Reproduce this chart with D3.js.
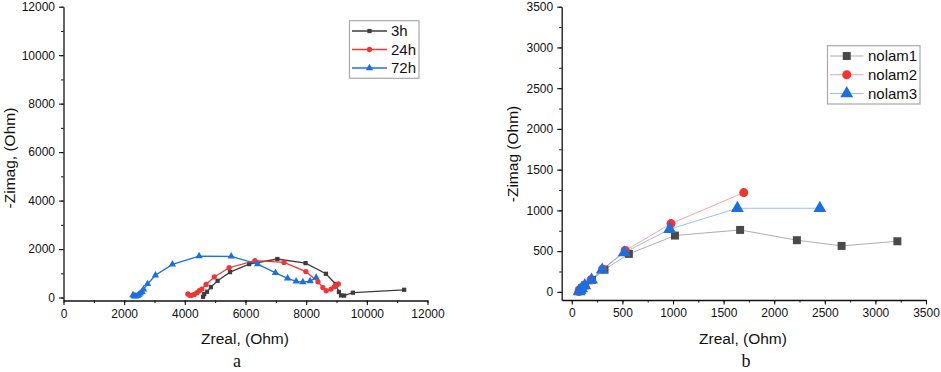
<!DOCTYPE html>
<html>
<head>
<meta charset="utf-8">
<script src="https://cdn.jsdelivr.net/npm/d3@7"></script>
<style>
  html, body { margin: 0; padding: 0; background: #fff; }
  svg { display: block; font-family: "Liberation Sans", Arial, sans-serif; }
</style>
</head>
<body>
<div id="chart"></div>
<script>
// panel a: Nyquist data after 3h / 24h / 72h, [Zreal, -Zimag] in Ohm
const seriesA3h = [
  [4600, 30], [4640, 140], [4730, 240], [4860, 430], [5080, 690], [5490, 1050],
  [6120, 1380], [7050, 1590], [7980, 1420], [8650, 980], [8970, 560], [9080, 230],
  [9150, 90], [9250, 80], [9540, 200], [11230, 320]
];
const seriesA24h = [
  [4100, 150], [4160, 90], [4230, 90], [4310, 130], [4400, 200], [4480, 280],
  [4560, 350], [4700, 540], [4970, 850], [5460, 1230], [6310, 1520], [7270, 1450],
  [7990, 1070], [8390, 650], [8550, 410], [8660, 280], [8820, 350], [8930, 450],
  [9010, 530], [9060, 560]
];
const seriesA72h = [
  [2290, 100], [2330, 60], [2380, 50], [2430, 70], [2480, 110], [2530, 170],
  [2590, 240], [2640, 340], [2770, 560], [3030, 920], [3590, 1370], [4470, 1710],
  [5530, 1700], [6400, 1380], [6990, 1020], [7390, 790], [7670, 670], [7890, 640],
  [8130, 680], [8330, 820]
];

// panel b: nolam samples
const seriesNolam1 = [
  [76, 10], [86, 25], [102, 45], [132, 80], [200, 147], [323, 274], [564, 466],
  [1019, 691], [1663, 760], [2224, 634], [2666, 564], [3217, 621]
];
const seriesNolam2 = [
  [70, 5], [80, 18], [95, 38], [125, 75], [190, 145], [304, 278], [528, 507],
  [980, 838], [1699, 1218]
];
const seriesNolam3 = [
  [72, 5], [82, 20], [98, 40], [128, 78], [195, 147], [300, 270], [518, 482],
  [967, 769], [1636, 1026], [2451, 1026]
];

const labelsA = ["3h", "24h", "72h"];
const labelsB = ["nolam1", "nolam2", "nolam3"];

const ticksA = [0, 2000, 4000, 6000, 8000, 10000, 12000];
const ticksB = [0, 500, 1000, 1500, 2000, 2500, 3000, 3500];

const gray = "#3d3d3d";
const red = "#ef3535";
const blue = "#1b6fdf";

const width = 941;
const height = 372;

const svg = d3.select("#chart")
  .append("svg")
  .attr("width", width)
  .attr("height", height);

function panel(opts) {
  const x = d3.scaleLinear().domain(opts.xDomain).range([opts.left, opts.right]);
  const y = d3.scaleLinear().domain(opts.yDomain).range([opts.bottom, opts.top]);

  const g = svg.append("g");

  // minor ticks first, then major axes on top
  const last = opts.ticks[opts.ticks.length - 1];
  const minorX = d3.range(0, last + 1, opts.minor)
    .filter((v) => v >= opts.xDomain[0] && v <= opts.xDomain[1]);
  const minorY = d3.range(0, last + 1, opts.minor)
    .filter((v) => v >= opts.yDomain[0] && v <= opts.yDomain[1]);

  g.append("g")
    .attr("transform", "translate(0," + opts.bottom + ")")
    .call(d3.axisBottom(x).tickValues(minorX).tickSize(2.5).tickFormat("").tickSizeOuter(0))
    .call((s) => s.select(".domain").remove());
  g.append("g")
    .attr("transform", "translate(" + opts.left + ",0)")
    .call(d3.axisLeft(y).tickValues(minorY).tickSize(2.5).tickFormat("").tickSizeOuter(0))
    .call((s) => s.select(".domain").remove());

  const xAxis = g.append("g")
    .attr("transform", "translate(0," + opts.bottom + ")")
    .call(d3.axisBottom(x).tickValues(opts.ticks).tickSize(4.5).tickSizeOuter(0).tickFormat(d3.format("d")).tickPadding(4));
  const yAxis = g.append("g")
    .attr("transform", "translate(" + opts.left + ",0)")
    .call(d3.axisLeft(y).tickValues(opts.ticks).tickSize(4.5).tickSizeOuter(0).tickFormat(d3.format("d")).tickPadding(4));

  [xAxis, yAxis].forEach((a) => {
    a.selectAll("text").style("font-size", "12px").attr("fill", "#111");
    a.selectAll("line").attr("stroke-width", 1.1);
    a.select(".domain").attr("stroke", "#111").attr("stroke-width", 1.3);
  });
  g.selectAll("line").attr("stroke", "#111");

  // axis titles
  g.append("text")
    .attr("x", opts.xTitleX)
    .attr("y", 344)
    .attr("text-anchor", "middle")
    .style("font-size", "15.5px")
    .attr("fill", "#111")
    .text("Zreal, (Ohm)");

  g.append("text")
    .attr("transform", "translate(" + opts.yTitleX + "," + opts.yTitleY + ") rotate(-90)")
    .attr("text-anchor", "middle")
    .style("font-size", "15.5px")
    .attr("fill", "#111")
    .text(opts.yTitle);

  g.append("text")
    .attr("x", opts.letterX)
    .attr("y", 367)
    .attr("text-anchor", "middle")
    .style("font-family", "'Liberation Serif', 'Times New Roman', serif")
    .style("font-size", "18px")
    .attr("fill", "#111")
    .text(opts.letter);

  const line = d3.line().x((d) => x(d[0])).y((d) => y(d[1]));
  const shapes = [d3.symbolSquare, d3.symbolCircle, d3.symbolTriangle];

  opts.series.forEach((s, i) => {
    g.append("path")
      .datum(s.data)
      .attr("fill", "none")
      .attr("stroke", s.color)
      .attr("stroke-opacity", opts.lineOpacity)
      .attr("stroke-width", opts.lineWidth)
      .attr("d", line);

    g.selectAll(null)
      .data(s.data)
      .enter()
      .append("path")
      .attr("transform", (d) => "translate(" + x(d[0]) + "," + y(d[1]) + ")")
      .attr("d", d3.symbol(shapes[i], opts.markerSize[i]))
      .attr("fill", s.color);
  });

  // legend
  const lg = svg.append("g");
  lg.append("rect")
    .attr("x", opts.legend.x)
    .attr("y", opts.legend.y)
    .attr("width", opts.legend.w)
    .attr("height", opts.legend.h)
    .attr("fill", "#fff")
    .attr("stroke", "#a8a8a8")
    .attr("stroke-width", 1.2);

  opts.series.forEach((s, i) => {
    const ly = opts.legend.rowY[i];
    lg.append("line")
      .attr("x1", opts.legend.lineX1)
      .attr("x2", opts.legend.lineX2)
      .attr("y1", ly)
      .attr("y2", ly)
      .attr("stroke", s.color)
      .attr("stroke-opacity", opts.lineOpacity)
      .attr("stroke-width", opts.lineWidth);
    lg.append("path")
      .attr("transform", "translate(" + (opts.legend.lineX1 + opts.legend.lineX2) / 2 + "," + ly + ")")
      .attr("d", d3.symbol(shapes[i], opts.markerSize[i]))
      .attr("fill", s.color);
    lg.append("text")
      .attr("x", opts.legend.textX)
      .attr("y", ly)
      .attr("dy", "0.36em")
      .style("font-size", "15px")
      .attr("fill", "#111")
      .text(s.label);
  });
}

panel({
  left: 63.5, right: 427.5, top: 6.7, bottom: 300.5,
  xDomain: [0, 12000], yDomain: [-122, 12000],
  ticks: ticksA, minor: 1000,
  xTitleX: 245, yTitleX: 15, yTitleY: 158, yTitle: "-Zimag, (Ohm)",
  letter: "a", letterX: 237,
  lineWidth: 1.3, lineOpacity: 1, markerSize: [18, 22, 24],
  series: [
    { label: labelsA[0], data: seriesA3h, color: gray },
    { label: labelsA[1], data: seriesA24h, color: red },
    { label: labelsA[2], data: seriesA72h, color: blue }
  ],
  legend: { x: 349.5, y: 20.7, w: 69.5, h: 57.6, rowY: [31, 49.5, 68], lineX1: 352, lineX2: 387, textX: 391 }
});

panel({
  left: 561.7, right: 926, top: 6.7, bottom: 300,
  xDomain: [-100, 3500], yDomain: [-100, 3500],
  ticks: ticksB, minor: 250,
  xTitleX: 743, yTitleX: 518, yTitleY: 154, yTitle: "-Zimag (Ohm)",
  letter: "b", letterX: 746,
  lineWidth: 1, lineOpacity: 0.45, markerSize: [64, 64, 72],
  series: [
    { label: labelsB[0], data: seriesNolam1, color: "#4a4a4a" },
    { label: labelsB[1], data: seriesNolam2, color: red },
    { label: labelsB[2], data: seriesNolam3, color: blue }
  ],
  legend: { x: 827.5, y: 45.7, w: 92.5, h: 58.3, rowY: [56, 74.7, 93.5], lineX1: 830, lineX2: 863.5, textX: 868 }
});
</script>
</body>
</html>
